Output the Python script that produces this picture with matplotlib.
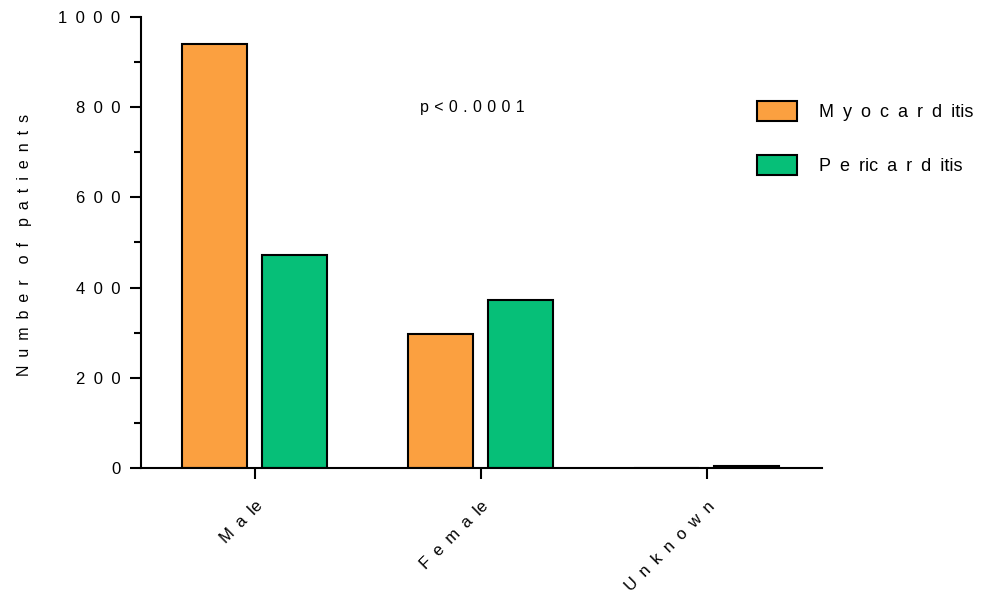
import matplotlib
matplotlib.use("Agg")
import matplotlib.pyplot as plt
import numpy as np
from matplotlib.patches import Patch

categories = ["Male", "Female", "Unknown"]
cat_labels = ["M a le", "F e m a le", "U n k n o w n"]
myocarditis = [940, 297, 1]
pericarditis = [472, 372, 4]
yticks = [0, 200, 400, 600, 800, 1000]
ytick_labels = ["0", "200", "400", "600", "800", "1000"]
series_labels = ["M y o c a r d itis", "P e ric a r d itis"]
ylabel_text = "N u m b e r  o f  p a t i e n t s"
pvalue_text = "p < 0 . 0 0 0 1"

EN = "\u2002"
THIRD = "\u2004"


def spaced(s, sp=EN):
    return s.replace(" ", sp)


def spread(s, sp=EN):
    return sp.join(list(s))


c_myo = "#FBA040"
c_peri = "#06BF78"

plt.rcParams['font.family'] = ['Liberation Sans', 'DejaVu Sans']

fig = plt.figure(figsize=(9.82, 5.92), dpi=100)
ax = fig.add_axes([0.1436, 0.2095, 0.837 - 0.1436, 0.9713 - 0.2095])

x = np.arange(len(categories))
w = 0.288
off = 0.177
ax.bar(x - off, myocarditis, width=w, color=c_myo, edgecolor="black", linewidth=1.5)
ax.bar(x + off, pericarditis, width=w, color=c_peri, edgecolor="black", linewidth=1.5)

ax.set_xlim(-0.504, 2.509)
ax.set_ylim(0, 1000)
ax.set_yticks(yticks)
ax.set_yticklabels([spread(t) for t in ytick_labels], fontsize=12)
ax.set_yticks(np.arange(100, 1000, 200), minor=True)
ax.set_xticks(x)
ax.set_xticklabels([spaced(t) for t in cat_labels], rotation=45, ha="right",
                   rotation_mode="anchor", fontsize=12)

for s in ["top", "right"]:
    ax.spines[s].set_visible(False)
for s in ["left", "bottom"]:
    ax.spines[s].set_linewidth(1.5)
ax.tick_params(axis="y", which="major", length=8, width=1.5, pad=7)
ax.tick_params(axis="y", which="minor", length=5, width=1.5)
ax.tick_params(axis="x", which="major", length=8, width=1.5, pad=14)

ax.set_ylabel(spaced(ylabel_text), fontsize=11.5)
ax.yaxis.set_label_coords(-0.16, 0.494)

ax.text(0.96, 800, spaced(pvalue_text, THIRD), fontsize=11.5, ha="center", va="center")

handles = [Patch(facecolor=c_myo, edgecolor="black", linewidth=1.5, label=spaced(series_labels[0])),
           Patch(facecolor=c_peri, edgecolor="black", linewidth=1.5, label=spaced(series_labels[1]))]
fig.legend(handles=handles, loc="upper left", bbox_to_anchor=(0.771, 0.829),
           frameon=False, fontsize=13, handlelength=2.2, handleheight=1.3,
           labelspacing=1.87, handletextpad=1.25, borderaxespad=0, borderpad=0)

fig.savefig("out.png", dpi=100)
